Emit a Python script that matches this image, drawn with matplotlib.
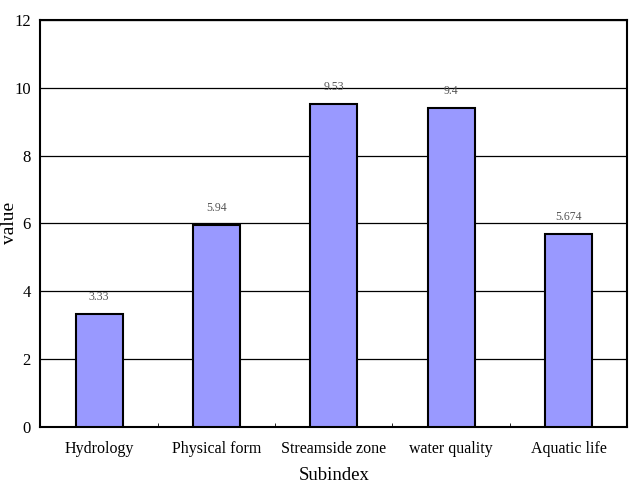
import matplotlib
matplotlib.use("Agg")
import matplotlib.pyplot as plt
import numpy as np

categories = ["Hydrology", "Physical form", "Streamside zone", "water quality", "Aquatic life"]
values = [3.33, 5.94, 9.53, 9.4, 5.674]
labels = ["3.33", "5.94", "9.53", "9.4", "5.674"]
yticks = [0, 2, 4, 6, 8, 10, 12]

plt.rcParams["font.family"] = ["Liberation Serif", "DejaVu Serif"]

fig = plt.figure(figsize=(6.31, 4.83), dpi=100)
ax = fig.add_axes([0.064, 0.116, 0.93, 0.843])

x = np.arange(len(categories))
ax.bar(x, values, width=0.4, color="#9999ff", edgecolor="black", linewidth=1.5, zorder=3)

for xi, v, s in zip(x, values, labels):
    ax.annotate(s, (xi, v), xytext=(0, 8), textcoords="offset points",
                ha="center", va="bottom", fontsize=8.5, color="#555555")

ax.set_xlim(-0.5, len(categories) - 0.5)
ax.set_ylim(0, 12)
ax.set_yticks(yticks)
ax.yaxis.grid(True, color="black", linewidth=0.9, zorder=0)
ax.set_xticks(x)
ax.set_xticklabels(categories, fontsize=11.5)
ax.set_xticks(x[:-1] + 0.5, minor=True)
ax.tick_params(axis="x", which="major", length=0, pad=10)
ax.tick_params(axis="x", which="minor", direction="in", length=3)
ax.tick_params(axis="y", length=0, labelsize=12, pad=7)
for sp in ax.spines.values():
    sp.set_linewidth(1.5)

ax.set_xlabel("Subindex", fontsize=13.5, labelpad=7)
ax.set_ylabel("value", fontsize=14, va="center")
ax.yaxis.set_label_coords(-0.053, 0.5)

fig.savefig("out.png", dpi=100)
